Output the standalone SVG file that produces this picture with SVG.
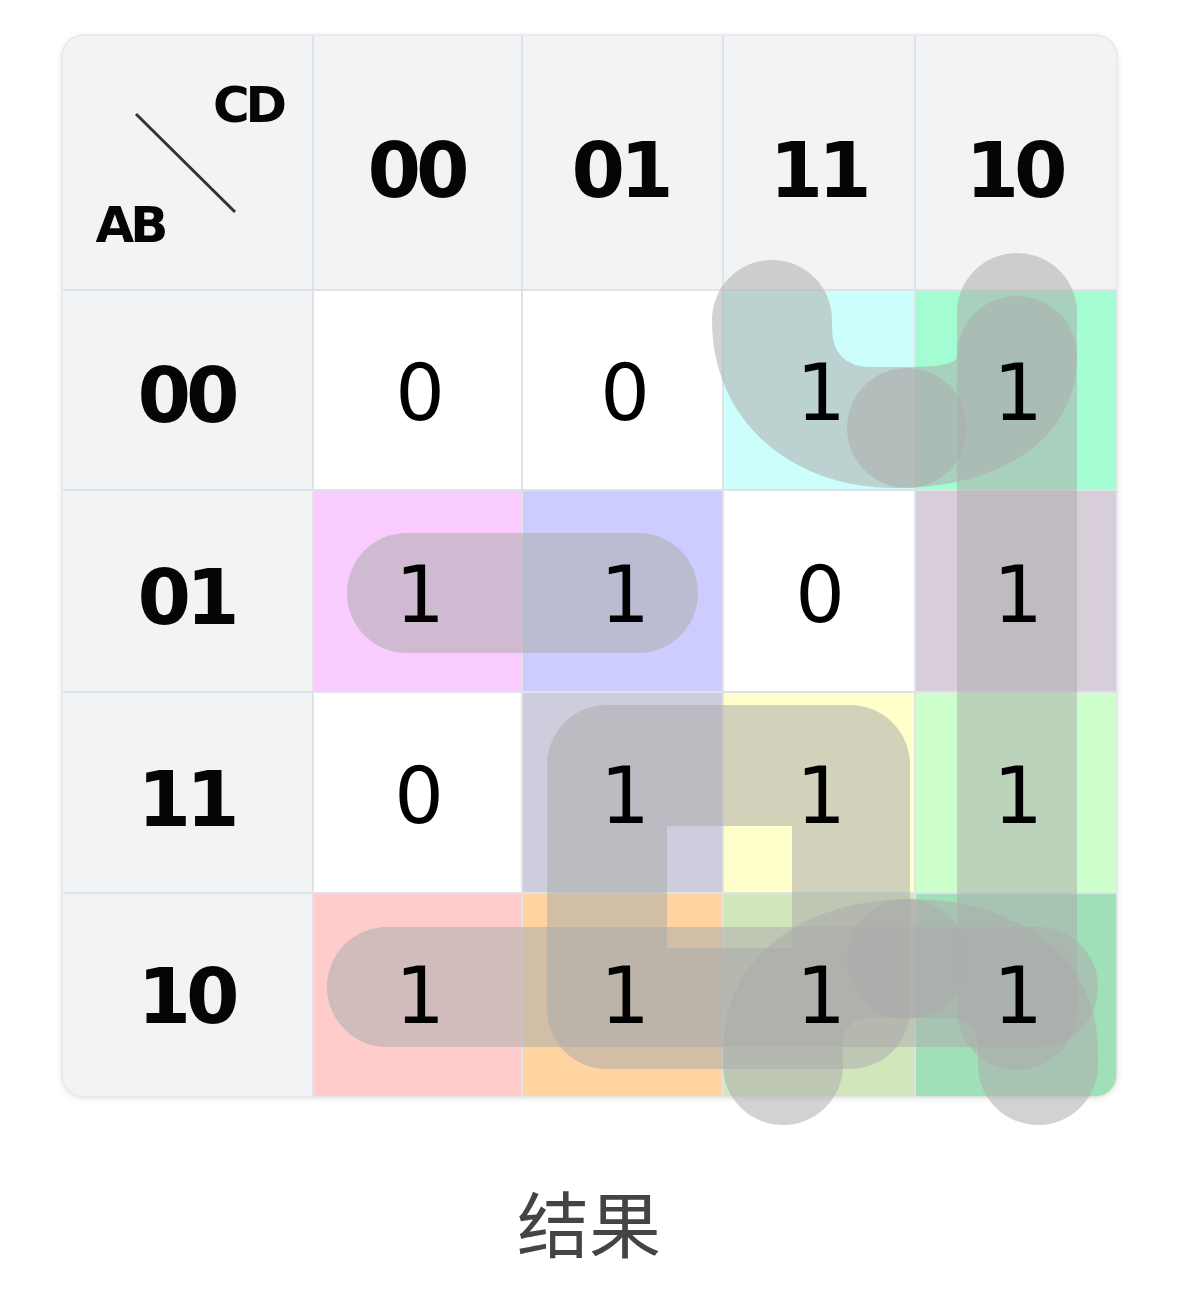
<svg xmlns="http://www.w3.org/2000/svg" width="1185" height="1310" viewBox="0 0 1185 1310">
<defs>
<style>
.hd{fill:#f1f3f5}
.grid{stroke:#dfe3e7;stroke-width:2;fill:none}
.h{font-family:"DejaVu Sans","Liberation Sans",sans-serif;font-weight:bold;font-size:77px;letter-spacing:-5px;text-anchor:middle;fill:#050505}
.lbl{font-family:"DejaVu Sans","Liberation Sans",sans-serif;font-weight:bold;font-size:50px;letter-spacing:-4px;text-anchor:middle;fill:#050505}
.v{font-family:"DejaVu Sans","Liberation Sans",sans-serif;font-size:78px;text-anchor:middle;fill:#000}
.loop{fill:#acacac;fill-opacity:0.54}
.cap{font-family:"Noto Sans CJK SC","Noto Sans CJK JP",sans-serif;font-size:72px;text-anchor:middle;fill:#444}
</style>
<clipPath id="tbl"><rect x="62" y="35" width="1055" height="1062" rx="22"/></clipPath>
<filter id="sh" x="-5%" y="-5%" width="110%" height="110%"><feDropShadow dx="0" dy="1" stdDeviation="3" flood-color="#000" flood-opacity="0.12"/></filter>
</defs>
<rect width="1185" height="1310" fill="#fff"/>
<g id="table">
<rect x="62" y="35" width="1055" height="1062" rx="22" fill="#fff" filter="url(#sh)"/>
<g clip-path="url(#tbl)">
<rect class="hd" x="62" y="35" width="1055" height="255"/>
<rect class="hd" x="62" y="35" width="251" height="1062"/>
<g id="cells">
<rect id="c00-11" x="723" y="290" width="192" height="200" fill="#ccfffb"/>
<rect id="c00-10" x="915" y="290" width="202" height="200" fill="#a3fcd2"/>
<rect id="c01-00" x="313" y="490" width="209" height="202" fill="#facbff"/>
<rect id="c01-01" x="522" y="490" width="201" height="202" fill="#ccccff"/>
<rect id="c01-10" x="915" y="490" width="202" height="202" fill="#d8ced9"/>
<rect id="c11-01" x="522" y="692" width="201" height="201" fill="#cdcddd"/>
<rect id="c11-11" x="723" y="692" width="192" height="201" fill="#ffffcc"/>
<rect id="c11-10" x="915" y="692" width="202" height="201" fill="#ccffcc"/>
<rect id="c10-00" x="313" y="893" width="209" height="204" fill="#ffcccc"/>
<rect id="c10-01" x="522" y="893" width="201" height="204" fill="#ffd4a0"/>
<rect id="c10-11" x="723" y="893" width="192" height="204" fill="#d2e6bc"/>
<rect id="c10-10" x="915" y="893" width="202" height="204" fill="#a0e0b8"/>
</g>
<g class="grid">
<line x1="313" y1="35" x2="313" y2="1097"/>
<line x1="522" y1="35" x2="522" y2="1097"/>
<line x1="723" y1="35" x2="723" y2="1097"/>
<line x1="915" y1="35" x2="915" y2="1097"/>
<line x1="62" y1="290" x2="1117" y2="290"/>
<line x1="62" y1="490" x2="1117" y2="490"/>
<line x1="62" y1="692" x2="1117" y2="692"/>
<line x1="62" y1="893" x2="1117" y2="893"/>
</g>
</g>
<rect x="62" y="35" width="1055" height="1062" rx="22" fill="none" stroke="#e6e8eb" stroke-width="1.5"/>
</g>
<g id="corner">
<line x1="136" y1="114" x2="235" y2="212" stroke="#333" stroke-width="3"/>
<text class="lbl" x="248" y="122">CD</text>
<text class="lbl" x="130" y="242">AB</text>
</g>
<g id="col-headers">
<text class="h" x="416" y="197">00</text>
<text class="h" x="620" y="197">01</text>
<text class="h" x="818" y="197">11</text>
<text class="h" x="1014" y="197">10</text>
</g>
<g id="row-headers">
<text class="h" x="186" y="422">00</text>
<text class="h" x="186" y="624">01</text>
<text class="h" x="186" y="826">11</text>
<text class="h" x="186" y="1023">10</text>
</g>
<g id="loops">
<path id="loop-top" class="loop" d="M712 320 A60 60 0 0 1 832 320 L832 327 Q832 367 872 367 L910 367 Q957 367 957 356 A60 60 0 0 1 1077 356 C1077 440 1000 488 895 488 C790 488 712 420 712 320 Z"/>
<circle id="loop-top-dot" class="loop" cx="907" cy="428" r="60"/>
<rect id="loop-col10" class="loop" x="957" y="253" width="120" height="817" rx="60"/>
<rect id="loop-row01" class="loop" x="347" y="533" width="351" height="120" rx="60"/>
<rect id="loop-row10" class="loop" x="327" y="927" width="771" height="120" rx="60"/>
<path id="loop-square" class="loop" fill-rule="evenodd" d="M607 705 L850 705 A60 60 0 0 1 910 765 L910 1009 A60 60 0 0 1 850 1069 L607 1069 A60 60 0 0 1 547 1009 L547 765 A60 60 0 0 1 607 705 Z M667 826 L792 826 L792 948 L667 948 Z"/>
<path id="loop-bottom" class="loop" d="M723 1065 L723 1050 C723 960 800 899 910 899 C1020 899 1098 960 1098 1050 L1098 1065 A60 60 0 0 1 978 1065 L978 1046 Q978 1018 950 1018 L871 1018 Q843 1018 843 1046 L843 1065 A60 60 0 0 1 723 1065 Z"/>
<circle id="loop-bottom-dot" class="loop" cx="907" cy="959" r="60"/>
</g>
<g id="values">
<text class="v" x="420" y="420">0</text>
<text class="v" x="625" y="420">0</text>
<text class="v" x="821" y="420" fill="#0b3a5a">1</text>
<text class="v" x="1018" y="420" fill="#006b3c">1</text>
<text class="v" x="420" y="622" fill="#4d0045">1</text>
<text class="v" x="625" y="622" fill="#00004d">1</text>
<text class="v" x="820" y="622">0</text>
<text class="v" x="1018" y="622" fill="#3a2a3a">1</text>
<text class="v" x="419" y="823">0</text>
<text class="v" x="625" y="823" fill="#23233f">1</text>
<text class="v" x="821" y="823" fill="#3a3a00">1</text>
<text class="v" x="1018" y="823" fill="#003a00">1</text>
<text class="v" x="420" y="1023" fill="#5c0000">1</text>
<text class="v" x="625" y="1023" fill="#6b3800">1</text>
<text class="v" x="821" y="1023" fill="#2f5f2f">1</text>
<text class="v" x="1018" y="1023" fill="#00693a">1</text>
</g>
<g id="caption">
<text class="cap" x="589" y="1252">结果</text>
</g>
</svg>
